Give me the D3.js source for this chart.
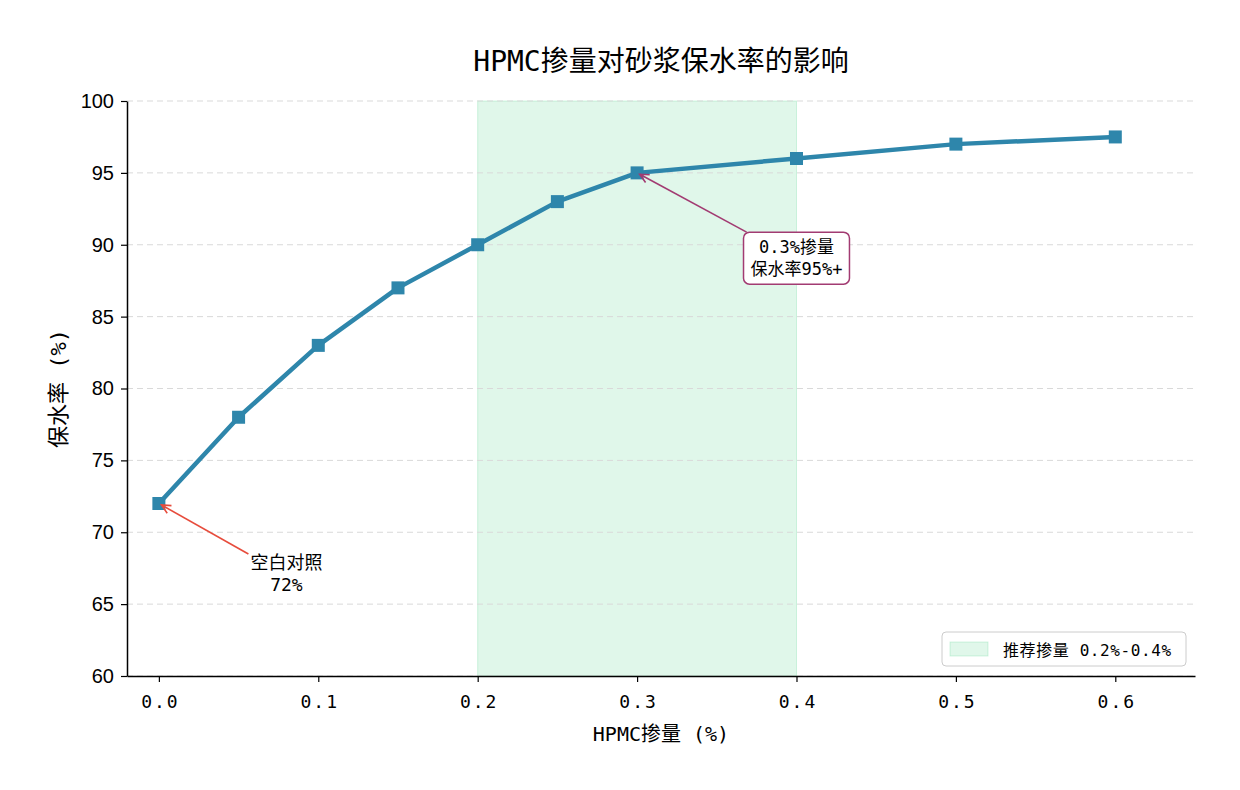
<!DOCTYPE html>
<html lang="zh">
<head>
<meta charset="UTF-8">
<title>HPMC掺量对砂浆保水率的影响</title>
<script src="https://d3js.org/d3.v7.min.js"></script>
<style>
  body { margin: 0; background: #fff; }
  svg text { fill: #000; }
  .cjk { font-family: "DejaVu Sans Mono", "Noto Sans CJK SC", sans-serif; }
  .num { font-family: "Liberation Sans", Arial, sans-serif; }
</style>
</head>
<body>
<div id="chart"></div>
<script>
// data
const dosage = [0, 0.05, 0.1, 0.15, 0.2, 0.25, 0.3, 0.4, 0.5, 0.6];
const retention = [72, 78, 83, 87, 90, 93, 95, 96, 97, 97.5];
const xTicks = [0, 0.1, 0.2, 0.3, 0.4, 0.5, 0.6];
const yTicks = [60, 65, 70, 75, 80, 85, 90, 95, 100];
const band = [0.2, 0.4];
const notes = [
  { at: [0, 72], text: [0.08, 67], lines: ["空白对照", "72%"], color: "#e74c3c", box: false },
  { at: [0.3, 95], text: [0.4, 89], lines: ["0.3%掺量", "保水率95%+"], color: "#a23b72", box: true }
];

const W = 1240, H = 790;
const m = { top: 101, right: 45, bottom: 114, left: 127 };

const svg = d3.select("#chart").append("svg")
  .attr("width", W).attr("height", H);

const x = d3.scaleLinear().domain([-0.02, 0.65]).range([m.left, W - m.right]);
const y = d3.scaleLinear().domain([60, 100]).range([H - m.bottom, m.top]);

// recommended range shading
svg.append("rect")
  .attr("x", x(band[0])).attr("y", y(100))
  .attr("width", x(band[1]) - x(band[0]))
  .attr("height", y(60) - y(100))
  .attr("fill", "#2ecc71").attr("fill-opacity", 0.15)
  .attr("stroke", "#2ecc71").attr("stroke-opacity", 0.2);

// grid
svg.append("g").selectAll("line").data(yTicks).join("line")
  .attr("x1", m.left).attr("x2", W - m.right)
  .attr("y1", d => y(d)).attr("y2", d => y(d))
  .attr("stroke", "#d9d9d9").attr("stroke-dasharray", "6,4")
  .attr("stroke-width", 1);

// axes
const xAxis = svg.append("g")
  .attr("transform", `translate(0,${y(60)})`)
  .call(d3.axisBottom(x).tickValues(xTicks).tickFormat(d3.format(".1f")).tickSize(6).tickSizeOuter(0));
xAxis.selectAll("text").attr("class", "cjk").attr("font-size", 18)
  .attr("letter-spacing", "2px").attr("dx", "1px").attr("dy", "1.3em");

const yAxis = svg.append("g")
  .attr("transform", `translate(${m.left},0)`)
  .call(d3.axisLeft(y).tickValues(yTicks).tickSize(6).tickSizeOuter(0));
yAxis.selectAll("text").attr("class", "num").attr("font-size", 20).attr("dx", "-0.2em");

[xAxis, yAxis].forEach(a => {
  a.select(".domain").attr("stroke", "#000").attr("stroke-width", 1.5);
  a.selectAll(".tick line").attr("stroke", "#000").attr("stroke-width", 1.2);
});

// line + markers
const pts = dosage.map((d, i) => [d, retention[i]]);
svg.append("path")
  .datum(pts)
  .attr("fill", "none")
  .attr("stroke", "#2e86ab")
  .attr("stroke-width", 4.5)
  .attr("stroke-linejoin", "round")
  .attr("d", d3.line().x(d => x(d[0])).y(d => y(d[1])));

const ms = 13;
svg.append("g").selectAll("rect").data(pts).join("rect")
  .attr("x", d => x(d[0]) - ms / 2).attr("y", d => y(d[1]) - ms / 2)
  .attr("width", ms).attr("height", ms)
  .attr("fill", "#2e86ab");

// annotations
notes.forEach(n => {
  const tx = x(n.text[0]), ty = y(n.text[1]);
  const g = svg.append("g");
  const t = g.append("text").attr("class", "cjk")
    .attr("font-size", n.box ? 17 : 18).attr("text-anchor", "middle");
  n.lines.forEach((s, i) => {
    t.append("tspan").attr("x", tx).attr("y", ty + (i - (n.lines.length - 1) / 2) * 22 + 5).text(s);
  });
  const bb = t.node().getBBox();
  const pad = n.box ? 7 : 2;
  const bx = { x0: bb.x - pad, y0: bb.y - pad + 2, x1: bb.x + bb.width + pad, y1: bb.y + bb.height + pad - 2 };
  if (n.box) {
    g.insert("rect", "text")
      .attr("x", bx.x0).attr("y", bx.y0)
      .attr("width", bx.x1 - bx.x0).attr("height", bx.y1 - bx.y0)
      .attr("rx", 6)
      .attr("fill", "#fff").attr("stroke", n.color).attr("stroke-width", 1.5);
  }
  // arrow from text box edge to the point
  const px = x(n.at[0]), py = y(n.at[1]);
  const dx = px - tx, dy = py - ty;
  let s = Infinity;
  if (dx !== 0) s = Math.min(s, Math.abs((dx < 0 ? bx.x0 - tx : bx.x1 - tx) / dx));
  if (dy !== 0) s = Math.min(s, Math.abs((dy < 0 ? bx.y0 - ty : bx.y1 - ty) / dy));
  const sx = tx + dx * s, sy = ty + dy * s;
  const ex = px - dx / Math.hypot(dx, dy) * 3, ey = py - dy / Math.hypot(dx, dy) * 3;
  g.append("line")
    .attr("x1", sx).attr("y1", sy).attr("x2", ex).attr("y2", ey)
    .attr("stroke", n.color).attr("stroke-width", 1.6);
  const ang = Math.atan2(ey - sy, ex - sx);
  const hl = 10, ha = 0.45;
  g.append("path")
    .attr("d", `M${ex - hl * Math.cos(ang - ha)},${ey - hl * Math.sin(ang - ha)}L${ex},${ey}L${ex - hl * Math.cos(ang + ha)},${ey - hl * Math.sin(ang + ha)}`)
    .attr("fill", "none").attr("stroke", n.color).attr("stroke-width", 1.6);
});

// legend
const lg = svg.append("g").attr("transform", `translate(${W - m.right - 253},${y(60) - 44})`);
lg.append("rect").attr("width", 244).attr("height", 34).attr("rx", 4)
  .attr("fill", "#fff").attr("fill-opacity", 0.8).attr("stroke", "#cccccc");
lg.append("rect").attr("x", 8).attr("y", 10).attr("width", 38).attr("height", 14)
  .attr("fill", "#2ecc71").attr("fill-opacity", 0.15)
  .attr("stroke", "#2ecc71").attr("stroke-opacity", 0.2);
lg.append("text").attr("class", "cjk").attr("x", 61).attr("y", 24)
  .attr("font-size", 16).attr("letter-spacing", "0.6px").text("推荐掺量 0.2%-0.4%");

// titles
svg.append("text").attr("class", "cjk")
  .attr("x", (m.left + W - m.right) / 2).attr("y", 71)
  .attr("text-anchor", "middle").attr("font-size", 28)
  .text("HPMC掺量对砂浆保水率的影响");

svg.append("text").attr("class", "cjk")
  .attr("x", (m.left + W - m.right) / 2).attr("y", 741)
  .attr("text-anchor", "middle").attr("font-size", 20)
  .text("HPMC掺量 (%)");

svg.append("text").attr("class", "cjk")
  .attr("transform", `translate(66,${(y(60) + y(100)) / 2}) rotate(-90)`)
  .attr("text-anchor", "middle").attr("font-size", 22)
  .text("保水率 (%)");
</script>
</body>
</html>
